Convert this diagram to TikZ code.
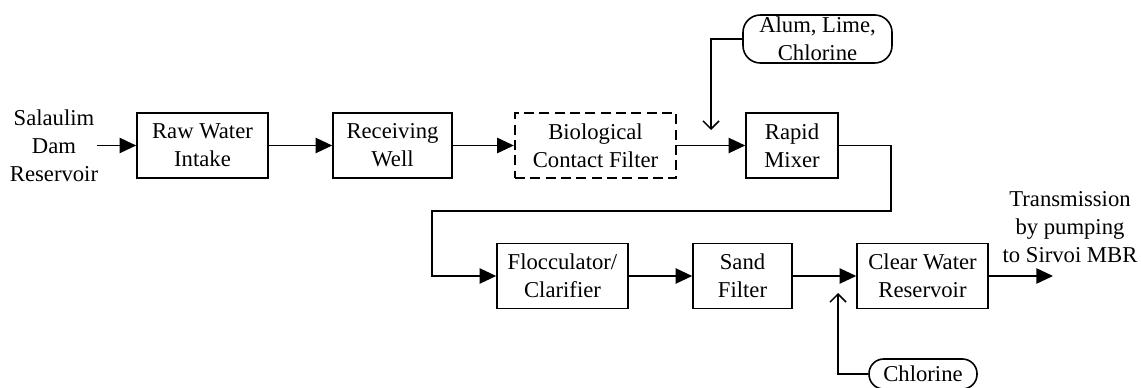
\documentclass[tikz,border=0pt]{standalone}
\usepackage{fontspec}
\setmainfont{Liberation Serif}
\usetikzlibrary{arrows.meta}

\begin{document}
\begin{tikzpicture}[x=0.75pt,y=0.75pt,yscale=-1,xscale=1,
  txt/.style={font=\fontsize{17}{21}\selectfont, align=center, inner sep=0pt},
  blk/.style={txt, draw, line width=1.2pt, minimum height=48.75pt},
  feed/.style={txt, draw, line width=1.2pt},
  flow/.style={line width=1.2pt, -{Triangle[length=12.5pt,width=11.5pt]}},
  dose/.style={line width=1.1pt, -{Straight Barb[length=6pt,width=12pt]}}]
\useasboundingbox (0,0) rectangle (1141,388);

% Text Node
\node [txt] (src) at (54,146) {Salaulim\\Dam\\Reservoir};
% Text Node
\node [txt] (dst) at (1070,227) {Transmission\\by pumping\\to Sirvoi MBR};

%Shape: Rectangle [top row]
\node [blk, minimum width=98.25pt] (raw) at (202.5,145.5) {Raw Water\\Intake};
\node [blk, minimum width=89.25pt] (recv) at (392.5,145.5) {Receiving\\Well};
\node [blk, minimum width=120.75pt, dash pattern=on 7.5pt off 4pt, line width=1.8pt] (bio) at (595.5,145.5) {Biological\\Contact Filter};
\node [blk, minimum width=69pt] (mixer) at (792,145.5) {Rapid\\Mixer};

%Shape: Rectangle [bottom row]
\node [blk, minimum width=98.25pt] (flocc) at (562.5,276) {Flocculator/\\Clarifier};
\node [blk, minimum width=74.25pt] (sand) at (742.5,276) {Sand\\Filter};
\node [blk, minimum width=98.25pt] (clear) at (922.5,276) {Clear Water\\Reservoir};

%Shape: Rounded Rect [chemicals]
\node [feed, rounded corners=13pt, minimum width=111.75pt, minimum height=36pt] (alum) at (817.5,39) {Alum, Lime,\\Chlorine};
\node [feed, rounded corners=11pt, minimum width=81pt, minimum height=22.5pt] (chlor) at (923,374) {Chlorine};

% free ends
\coordinate (alumIn) at (711,130);
\coordinate (chlorIn) at (838,293);
\coordinate (turnA) at (891,211);
\coordinate (turnB) at (432,211);
\coordinate (out) at (1053,276);
\coordinate (inlet) at (97,145.5);

%Straight Lines
\draw [flow] (inlet) -- (raw);
\draw [flow] (raw) -- (recv);
\draw [flow] (recv) -- (bio);
\draw [flow] (bio) -- (mixer);
\draw [flow] (mixer.east) -| (turnA) -- (turnB) |- (flocc.west);
\draw [flow] (flocc) -- (sand);
\draw [flow] (sand) -- (clear);
\draw [flow] (clear) -- (out);

%Straight Lines [dosing]
\draw [dose] (alum.west) -| (alumIn);
\draw [dose] (chlor.west) -| (chlorIn);

\end{tikzpicture}
\end{document}
